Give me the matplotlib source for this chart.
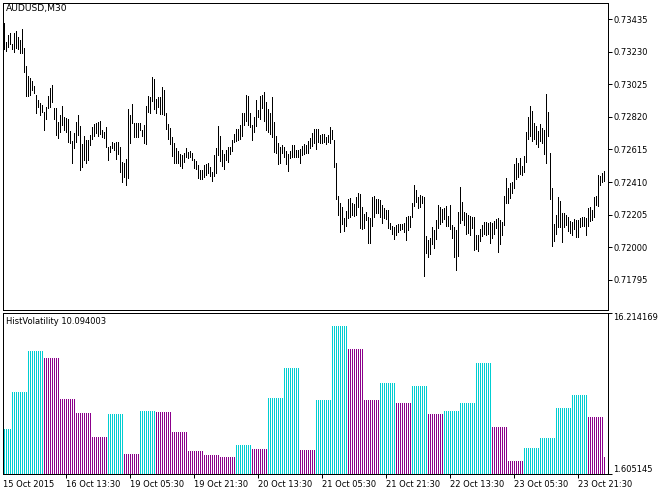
import matplotlib
matplotlib.use("Agg")
import matplotlib.pyplot as plt
import numpy as np

# ---------------- data ----------------
symbol_label = "AUDUSD,M30"
indicator_label = "HistVolatility 10.094003"

highs = [
    0.73410, 0.73291, 0.73335, 0.73347, 0.73278, 0.73347, 0.73360, 0.73322, 0.73303, 0.73373,
    0.73253, 0.73140, 0.73077, 0.73064, 0.73046, 0.73014, 0.72958, 0.72926, 0.72907, 0.72895,
    0.72850, 0.72882, 0.72951, 0.73001, 0.73020, 0.72876, 0.72876, 0.72788, 0.72832, 0.72888,
    0.72819, 0.72813, 0.72806, 0.72731, 0.72668, 0.72718, 0.72788, 0.72832, 0.72762, 0.72649,
    0.72700, 0.72674, 0.72674, 0.72706, 0.72756, 0.72775, 0.72781, 0.72788, 0.72794, 0.72737,
    0.72725, 0.72756, 0.72630, 0.72637, 0.72662, 0.72656, 0.72662, 0.72662, 0.72630, 0.72536,
    0.72530, 0.72555, 0.72869, 0.72832, 0.72901, 0.72781, 0.72781, 0.72781, 0.72781, 0.72737,
    0.72769, 0.72888, 0.72951, 0.72945, 0.73071, 0.73058, 0.72932, 0.72945, 0.72945, 0.73008,
    0.72989, 0.72844, 0.72775, 0.72750, 0.72693, 0.72656, 0.72624, 0.72605, 0.72586, 0.72580,
    0.72593, 0.72624, 0.72599, 0.72605, 0.72593, 0.72555, 0.72542, 0.72517, 0.72486, 0.72486,
    0.72517, 0.72523, 0.72530, 0.72505, 0.72473, 0.72580, 0.72624, 0.72762, 0.72700, 0.72612,
    0.72586, 0.72612, 0.72630, 0.72630, 0.72674, 0.72712, 0.72744, 0.72744, 0.72769, 0.72844,
    0.72844, 0.72958, 0.72951, 0.72844, 0.72769, 0.72819, 0.72926, 0.72863, 0.72951, 0.72958,
    0.72976, 0.72913, 0.72869, 0.72844, 0.72945, 0.72788, 0.72700, 0.72656, 0.72630, 0.72643,
    0.72630, 0.72605, 0.72586, 0.72605, 0.72643, 0.72643, 0.72612, 0.72612, 0.72618, 0.72637,
    0.72649, 0.72643, 0.72668, 0.72687, 0.72718, 0.72744, 0.72744, 0.72744, 0.72706, 0.72712,
    0.72712, 0.72693, 0.72706, 0.72756, 0.72737, 0.72674, 0.72530, 0.72322, 0.72278, 0.72253,
    0.72184, 0.72228, 0.72303, 0.72310, 0.72278, 0.72272, 0.72316, 0.72341, 0.72335, 0.72253,
    0.72209, 0.72222, 0.72190, 0.72184, 0.72316, 0.72322, 0.72303, 0.72303, 0.72297, 0.72265,
    0.72247, 0.72234, 0.72234, 0.72152, 0.72133, 0.72127, 0.72140, 0.72146, 0.72146, 0.72146,
    0.72152, 0.72190, 0.72196, 0.72196, 0.72278, 0.72391, 0.72360, 0.72316, 0.72328, 0.72322,
    0.72316, 0.72071, 0.72045, 0.72058, 0.72127, 0.72108, 0.72171, 0.72265, 0.72253, 0.72240,
    0.72247, 0.72259, 0.72196, 0.72265, 0.72140, 0.72127, 0.72108, 0.72222, 0.72379, 0.72284,
    0.72222, 0.72215, 0.72203, 0.72196, 0.72190, 0.72190, 0.72077, 0.72077, 0.72115, 0.72140,
    0.72159, 0.72159, 0.72152, 0.72159, 0.72152, 0.72165, 0.72178, 0.72184, 0.72171, 0.72159,
    0.72322, 0.72435, 0.72372, 0.72404, 0.72410, 0.72523, 0.72561, 0.72530, 0.72561, 0.72511,
    0.72574, 0.72725, 0.72819, 0.72888, 0.72857, 0.72781, 0.72762, 0.72731, 0.72775, 0.72750,
    0.72737, 0.72964, 0.72850, 0.72593, 0.72372, 0.72146, 0.72203, 0.72316, 0.72291, 0.72215,
    0.72215, 0.72203, 0.72190, 0.72165, 0.72159, 0.72178, 0.72171, 0.72171, 0.72184, 0.72190,
    0.72190, 0.72184, 0.72247, 0.72253, 0.72234, 0.72316, 0.72322, 0.72454, 0.72448, 0.72467, 0.72479,
]

lows = [
    0.73247, 0.73234, 0.73259, 0.73278, 0.73247, 0.73228, 0.73253, 0.73247, 0.73222, 0.73222,
    0.73102, 0.72951, 0.72951, 0.72958, 0.72989, 0.72970, 0.72844, 0.72882, 0.72832, 0.72850,
    0.72737, 0.72806, 0.72876, 0.72882, 0.72913, 0.72806, 0.72706, 0.72687, 0.72725, 0.72769,
    0.72737, 0.72725, 0.72662, 0.72656, 0.72530, 0.72624, 0.72662, 0.72706, 0.72486, 0.72505,
    0.72549, 0.72530, 0.72549, 0.72643, 0.72681, 0.72700, 0.72718, 0.72700, 0.72712, 0.72693,
    0.72687, 0.72630, 0.72549, 0.72599, 0.72624, 0.72612, 0.72555, 0.72586, 0.72473, 0.72410,
    0.72442, 0.72391, 0.72435, 0.72656, 0.72781, 0.72693, 0.72693, 0.72693, 0.72737, 0.72700,
    0.72656, 0.72649, 0.72850, 0.72844, 0.72920, 0.72869, 0.72844, 0.72882, 0.72838, 0.72838,
    0.72832, 0.72744, 0.72681, 0.72649, 0.72574, 0.72530, 0.72530, 0.72530, 0.72511, 0.72498,
    0.72536, 0.72568, 0.72561, 0.72568, 0.72549, 0.72498, 0.72492, 0.72435, 0.72429, 0.72429,
    0.72442, 0.72454, 0.72467, 0.72448, 0.72416, 0.72448, 0.72467, 0.72580, 0.72542, 0.72511,
    0.72492, 0.72549, 0.72536, 0.72586, 0.72605, 0.72662, 0.72668, 0.72674, 0.72681, 0.72700,
    0.72769, 0.72794, 0.72769, 0.72756, 0.72674, 0.72725, 0.72762, 0.72819, 0.72806, 0.72876,
    0.72794, 0.72737, 0.72725, 0.72712, 0.72693, 0.72599, 0.72593, 0.72523, 0.72530, 0.72593,
    0.72568, 0.72523, 0.72479, 0.72561, 0.72568, 0.72568, 0.72568, 0.72568, 0.72530, 0.72580,
    0.72586, 0.72593, 0.72593, 0.72624, 0.72637, 0.72656, 0.72618, 0.72662, 0.72656, 0.72656,
    0.72662, 0.72649, 0.72662, 0.72656, 0.72681, 0.72505, 0.72303, 0.72203, 0.72096, 0.72146,
    0.72102, 0.72133, 0.72184, 0.72190, 0.72203, 0.72196, 0.72203, 0.72253, 0.72121, 0.72115,
    0.72121, 0.72171, 0.72027, 0.72027, 0.72133, 0.72190, 0.72215, 0.72215, 0.72190, 0.72152,
    0.72184, 0.72178, 0.72121, 0.72115, 0.72083, 0.72052, 0.72077, 0.72096, 0.72108, 0.72115,
    0.72096, 0.72045, 0.72108, 0.72127, 0.72190, 0.72259, 0.72284, 0.72247, 0.72253, 0.72278,
    0.71819, 0.71964, 0.71938, 0.71957, 0.72020, 0.71995, 0.72052, 0.72121, 0.72146, 0.72159,
    0.72178, 0.72133, 0.72133, 0.72115, 0.72058, 0.71938, 0.71857, 0.71945, 0.72152, 0.72171,
    0.72140, 0.72083, 0.72089, 0.72077, 0.72121, 0.71983, 0.71989, 0.71976, 0.72039, 0.72071,
    0.72083, 0.72077, 0.72083, 0.72027, 0.72058, 0.72083, 0.72121, 0.71970, 0.72020, 0.72077,
    0.72140, 0.72278, 0.72278, 0.72310, 0.72341, 0.72372, 0.72429, 0.72442, 0.72461, 0.72454,
    0.72473, 0.72536, 0.72681, 0.72700, 0.72668, 0.72681, 0.72649, 0.72630, 0.72668, 0.72656,
    0.72586, 0.72530, 0.72700, 0.72303, 0.72008, 0.72039, 0.72083, 0.72127, 0.72127, 0.72033,
    0.72127, 0.72140, 0.72102, 0.72089, 0.72077, 0.72115, 0.72064, 0.72064, 0.72127, 0.72133,
    0.72133, 0.72077, 0.72133, 0.72165, 0.72171, 0.72190, 0.72265, 0.72259, 0.72391, 0.72410, 0.72416,
]

# Histogram volatility, one value per 4-hour block (8 M30 bars); first block partial
hist_values = [
    5.714, 9.001, 12.745, 12.106, 8.453, 7.175, 4.984, 7.084, 3.431, 7.358,
    7.266, 5.440, 3.705, 3.340, 3.157, 4.253, 3.888, 8.545, 11.193, 3.796,
    8.362, 15.055, 12.927, 8.362, 9.823, 8.088, 9.549, 7.084, 7.358, 8.088,
    11.649, 5.897, 2.792, 3.979, 4.892, 7.631, 8.818, 6.810, 3.157,
]
hist_min = 1.605145
hist_max = 16.214169
hist_tick_labels = ["1.605145", "16.214169"]

price_ticks = [0.71795, 0.72000, 0.72205, 0.72410, 0.72615, 0.72820, 0.73025, 0.73230, 0.73435]
price_min, price_max = 0.71605, 0.73536

first_date_label = "15 Oct 2015"
time_tick_bars = [31, 63, 95, 127, 159, 191, 223, 255, 287]
time_tick_labels = ["16 Oct 13:30", "19 Oct 05:30", "19 Oct 21:30", "20 Oct 13:30",
                    "21 Oct 05:30", "21 Oct 21:30", "22 Oct 13:30", "23 Oct 05:30",
                    "23 Oct 21:30"]

# ---------------- styling ----------------
UP = "#00CED1"
DOWN = "#8B008B"
FS = 6
LW = 0.72  # one pixel at 100 dpi

plt.rcParams["font.family"] = ["DejaVu Sans"]

W, H = 660, 494
fig = plt.figure(figsize=(W / 100, H / 100), dpi=100, facecolor="white")


def rect(l, t, r, b):
    return [l / W, 1 - b / H, (r - l) / W, (b - t) / H]


ax1 = fig.add_axes(rect(3, 3, 608, 310))
ax2 = fig.add_axes(rect(3, 313, 608, 474))

n = len(highs)
idx = np.arange(n)

# price bars
ax1.vlines(idx, lows, highs, colors="black", linewidth=LW, antialiased=False)
ax1.set_xlim(-0.5, 302)
ax1.set_ylim(price_min, price_max)
ax1.yaxis.tick_right()
ax1.set_yticks(price_ticks)
ax1.set_yticklabels([f"{v:.5f}" for v in price_ticks])
ax1.tick_params(axis="y", direction="out", length=3, width=LW, pad=1, labelsize=FS)
ax1.set_xticks([])

# histogram
block_of_bar = (idx + 4) // 8
bar_vals = np.array(hist_values)[block_of_bar]
block_cols = [UP] + [UP if hist_values[k] > hist_values[k - 1] else DOWN
                     for k in range(1, len(hist_values))]
bar_cols = [block_cols[b] for b in block_of_bar]
ax2.vlines(idx, hist_min, bar_vals, colors=bar_cols, linewidth=LW, antialiased=False)
ax2.set_xlim(-0.5, 302)
ax2.set_ylim(hist_min, hist_max)
ax2.yaxis.tick_right()
ax2.set_yticks([hist_min, hist_max])
ax2.set_yticklabels(hist_tick_labels)
tl = ax2.get_yticklabels()
tl[0].set_va("bottom")
tl[1].set_va("top")
ax2.tick_params(axis="y", direction="out", length=3, width=LW, pad=1, labelsize=FS)
ax2.set_xticks(time_tick_bars)
ax2.set_xticklabels(time_tick_labels)
for lab in ax2.get_xticklabels():
    lab.set_ha("left")
ax2.tick_params(axis="x", direction="out", length=3, width=LW, pad=1.5, labelsize=FS)
ax2.annotate(first_date_label, xy=(-0.5, 0), xycoords=("data", "axes fraction"),
             xytext=(0, -4.5), textcoords="offset points", ha="left", va="top",
             fontsize=FS)

for ax in (ax1, ax2):
    for s in ax.spines.values():
        s.set_linewidth(LW)
        s.set_color("black")

fig.text(6 / W, 1 - 4 / H, symbol_label, ha="left", va="top", fontsize=6.6)
fig.text(6 / W, 1 - 317 / H, indicator_label, ha="left", va="top", fontsize=FS)

fig.savefig("out.png", dpi=100, facecolor="white")
